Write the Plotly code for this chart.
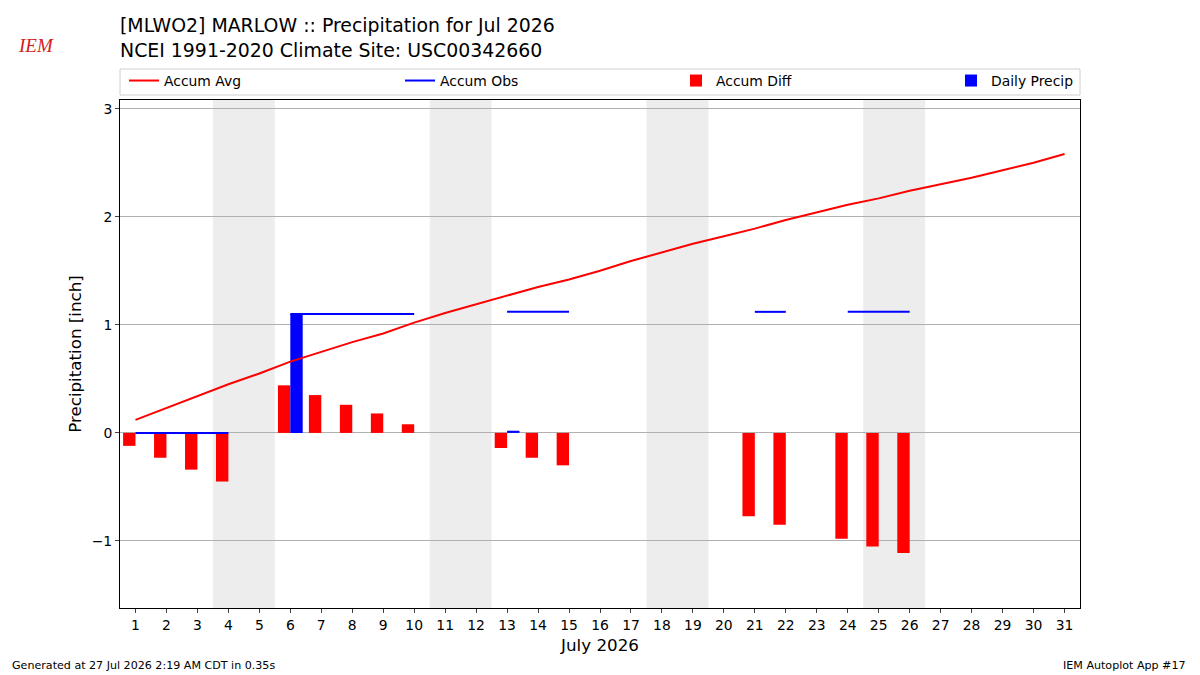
import datetime
import plotly.graph_objects as go

days = list(range(1, 32))
accum_avg = [0.12, 0.23, 0.34, 0.45, 0.55, 0.66, 0.75, 0.84, 0.92, 1.02,
             1.11, 1.19, 1.27, 1.35, 1.42, 1.50, 1.59, 1.67, 1.75, 1.82,
             1.89, 1.97, 2.04, 2.11, 2.17, 2.24, 2.30, 2.36, 2.43, 2.50, 2.58]
accum_obs = [0.0, 0.0, 0.0, 0.0, None, 1.10, 1.10, 1.10, 1.10, 1.10,
             None, None, 1.12, 1.12, 1.12, None, None, None, None, None,
             1.12, 1.12, None, 1.12, 1.12, 1.12, None, None, None, None, None]
accum_diff = [-0.12, -0.23, -0.34, -0.45, None, 0.44, 0.35, 0.26, 0.18, 0.08,
              None, None, -0.14, -0.23, -0.30, None, None, None, None, None,
              -0.77, -0.85, None, -0.98, -1.05, -1.11, None, None, None, None, None]
daily_precip = [0.0, 0.0, 0.0, 0.0, None, 1.10, 0.0, 0.0, 0.0, 0.0,
                None, None, 0.02, 0.0, 0.0, None, None, None, None, None,
                0.0, 0.0, None, 0.0, 0.0, 0.0, None, None, None, None, None]
year, month = 2026, 7

FONT = "DejaVu Sans"
fig = go.Figure()

fig.add_trace(go.Scatter(x=days, y=accum_avg, mode="lines", name="Accum Avg",
                         line=dict(color="red", width=2), legend="legend"))
fig.add_trace(go.Scatter(x=days, y=accum_obs, mode="lines", name="Accum Obs",
                         line=dict(color="blue", width=2), connectgaps=False,
                         legend="legend2"))
fig.add_trace(go.Bar(x=days, y=accum_diff, name="Accum Diff", marker_color="red",
                     marker_line_width=0, width=0.4, offset=-0.4, legend="legend3"))
fig.add_trace(go.Bar(x=days, y=daily_precip, name="Daily Precip", marker_color="blue",
                     marker_line_width=0, width=0.4, offset=0.0, legend="legend4"))

# weekend shading
shapes = []
for d in days:
    wd = datetime.date(year, month, d).weekday()
    if wd == 5:
        shapes.append(dict(type="rect", xref="x", yref="paper", x0=d - 0.5, x1=d + 1.5,
                           y0=0, y1=1, fillcolor="#ededed", line_width=0, layer="below"))
# legend frame
shapes.append(dict(type="rect", xref="paper", yref="paper", x0=0, x1=1,
                   y0=1 + 5 / 508, y1=1 + 31 / 508, line=dict(color="#d0d0d0", width=1),
                   fillcolor="rgba(0,0,0,0)", layer="above"))
fig.update_layout(shapes=shapes)

def leg(xp):
    return dict(x=(xp - 120) / 960, xanchor="left", y=1 + 19 / 508, yanchor="middle",
                orientation="h", bgcolor="rgba(0,0,0,0)", borderwidth=0,
                font=dict(size=13.9, family=FONT))

fig.update_layout(
    width=1200, height=675,
    margin=dict(l=120, r=120, t=100, b=67),
    paper_bgcolor="white", plot_bgcolor="white",
    font=dict(family=FONT, size=13.9, color="black"),
    barmode="overlay",
    showlegend=True,
    legend=leg(124), legend2=leg(400), legend3=leg(676), legend4=leg(951),
    xaxis=dict(range=[0.5, 31.5], tickmode="array", tickvals=days,
               ticktext=[str(d) for d in days],
               ticks="outside", ticklen=4, showgrid=False, zeroline=False,
               showline=True, linecolor="black", linewidth=1, mirror=True,
               title=dict(text="July 2026", font=dict(size=16.7), standoff=7),
               tickfont=dict(size=13.9)),
    yaxis=dict(range=[-1.62, 3.08], tickvals=[-1, 0, 1, 2, 3],
               ticks="outside", ticklen=4, showgrid=True, gridcolor="#b0b0b0",
               zeroline=False, showline=True, linecolor="black", linewidth=1,
               mirror=True, title=dict(text="Precipitation [inch]", font=dict(size=16.7),
                                       standoff=5),
               tickfont=dict(size=13.9)),
)

annotations = [
    dict(text="[MLWO2] MARLOW :: Precipitation for Jul 2026<br>NCEI 1991-2020 Climate Site: USC00342660",
         xref="paper", yref="paper", x=0, y=1.0, yshift=88, xshift=-2, xanchor="left",
         yanchor="top", align="left", showarrow=False, font=dict(size=18.9, family=FONT)),
    dict(text="Generated at 27 Jul 2026 2:19 AM CDT in 0.35s", xref="paper", yref="paper",
         x=-0.1125, xshift=-2, y=0, yshift=-57, xanchor="left", yanchor="middle",
         showarrow=False, font=dict(size=11.1, family=FONT)),
    dict(text="IEM Autoplot App #17", xref="paper", yref="paper",
         x=1.1125, y=0, yshift=-57, xanchor="right", yanchor="middle", showarrow=False,
         font=dict(size=11.1, family=FONT)),
    dict(text="<i>IEM</i>", xref="paper", yref="paper", x=-0.0875, y=1.0, yshift=55,
         xanchor="center", yanchor="middle", showarrow=False,
         font=dict(size=19, family="Liberation Serif", color="#d62020")),
]
fig.update_layout(annotations=annotations)

fig.write_html("out.html")
